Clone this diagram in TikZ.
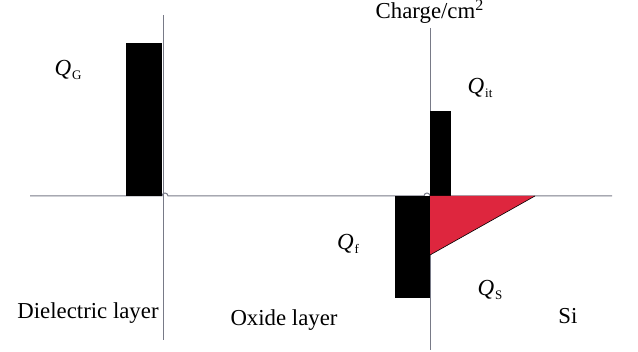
\documentclass[tikz,border=0pt]{standalone}
\usepackage{fontspec}
\setmainfont{Liberation Serif}
\usetikzlibrary{positioning}

\definecolor{qred}{RGB}{222,38,62}
\definecolor{axisgray}{RGB}{120,122,135}

\newcommand{\qsub}[1]{\textit{Q}\kern0.5pt\raisebox{-0.45ex}{\fontsize{6.5}{7}\selectfont #1}}

\begin{document}
\begin{tikzpicture}[
    x=0.5pt, y=-0.5pt,
    axis/.style={draw=axisgray, line width=0.5pt},
    bar/.style={fill=black, draw=none},
    qlabel/.style={font=\fontsize{11.5}{13}\selectfont, inner sep=0pt},
    layer/.style={font=\fontsize{11.4}{13}\selectfont, inner sep=0pt}
  ]
  \useasboundingbox (0,0) rectangle (638,352);

  % axes
  \coordinate (leftwall) at (163,196);
  \coordinate (rightwall) at (430,196);
  \draw[axis] (163,15) -- (163,340);
  \draw[axis] (430,28) -- (430,350);
  \draw[axis] (30,196) -- (162,196) arc[start angle=180, end angle=360, radius=3]
    -- (424,196) arc[start angle=180, end angle=360, radius=3] -- (612,196);

  % charges
  \fill[bar] (126,43) rectangle (162,196);
  \fill[bar] (430,111) rectangle (451,196);
  \fill[bar] (395,196) rectangle (430,298);
  \fill[qred] (430,196) -- (535,196) -- (430,255) -- cycle;
  \draw[black, line width=0.3pt] (430,255) -- (535,196);

  % labels
  \node[qlabel] (qg) at (68,70) {\qsub{G}};
  \node[qlabel] (qit) at (480,88) {\qsub{it}};
  \node[qlabel] (qf) at (348,244) {\qsub{f}};
  \node[qlabel] (qs) at (490,290) {\qsub{S}};
  \node[layer] (charge) at (430,12) {Charge/cm\textsuperscript{2}};
  \node[layer] (diel) at (88,313) {Dielectric layer};
  \node[layer] (oxide) at (284,320) {Oxide layer};
  \node[layer] (si) at (568,316) {Si};

\end{tikzpicture}
\end{document}
